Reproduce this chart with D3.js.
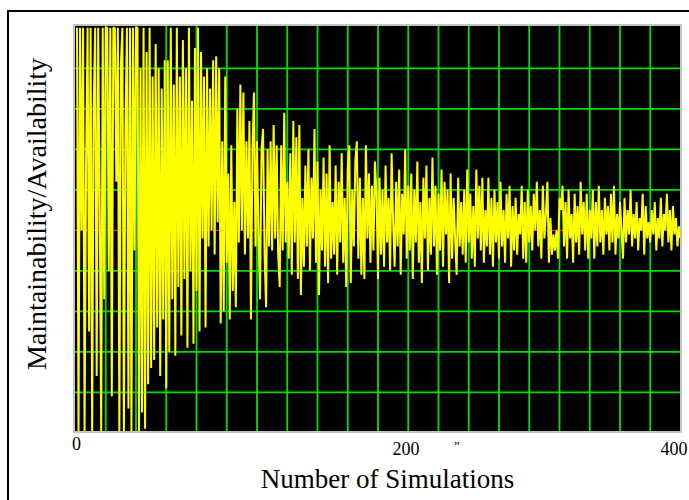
<!DOCTYPE html>
<html>
<head>
<meta charset="utf-8">
<script src="https://cdn.jsdelivr.net/npm/d3@7"></script>
<style>
  html, body { margin: 0; padding: 0; background: #ffffff; }
  svg { display: block; }
</style>
</head>
<body>
<svg id="chart" width="689" height="500"></svg>
<script>
// Running estimate of maintainability/availability (percent) after each simulation
const availability = [
  100, 0, 100, 50, 100, 0, 67, 100, 25, 100,
  0, 80, 100, 14, 100, 56, 0, 100, 33, 100,
  100, 40, 100, 9, 100, 100, 62, 100, 0, 91,
  100, 0, 75, 100, 6, 100, 0, 100, 45, 100,
  100, 0, 90, 5, 100, 1, 94, 12, 100, 16,
  88, 18, 96, 26, 90, 14, 85, 28, 92, 11,
  92, 20, 100, 33, 86, 19, 100, 36, 88, 24,
  97, 38, 90, 21, 100, 40, 82, 22, 95, 35,
  100, 25, 94, 48, 88, 26, 90, 46, 85, 50,
  92, 44, 93, 52, 90, 27, 72, 30, 88, 42,
  64, 28, 71, 35, 57, 31, 80, 47, 86, 50,
  84, 44, 72, 48, 77, 28, 70, 84, 46, 72,
  49, 33, 70, 75, 44, 31, 70, 46, 72, 45,
  76, 48, 71, 44, 36, 71, 45, 79, 47, 62,
  43, 69, 39, 77, 47, 73, 38, 76, 34, 58,
  41, 66, 46, 70, 40, 63, 48, 75, 42, 67,
  34, 60, 45, 68, 41, 64, 37, 71, 43, 57,
  44, 66, 39, 62, 47, 69, 42, 58, 36, 65,
  71, 37, 60, 46, 67, 72, 43, 63, 39, 58,
  38, 71, 48, 64, 42, 61, 45, 67, 59, 38,
  63, 44, 60, 41, 66, 47, 58, 40, 69, 52,
  41, 62, 46, 65, 39, 59, 49, 70, 43, 61,
  45, 64, 38, 60, 47, 67, 42, 57, 37, 63,
  48, 66, 40, 58, 44, 68, 46, 61, 39, 59,
  45, 65, 41, 62, 49, 60, 37, 64, 43, 58,
  48, 39, 63, 46, 57, 44, 60, 42, 65, 47,
  59, 43, 56, 41, 65, 48, 61, 45, 63, 42,
  55, 46, 63, 44, 58, 41, 60, 47, 57, 43,
  62, 46, 55, 42, 59, 48, 61, 41, 56, 45,
  58, 44, 54, 49, 61, 43, 57, 42, 60, 47,
  56, 45, 59, 50, 62, 46, 55, 43, 61, 48,
  54, 62, 42, 53, 44, 49, 45, 50, 43, 58,
  55, 61, 46, 57, 43, 60, 48, 54, 42, 59,
  47, 56, 44, 62, 49, 57, 45, 59, 43, 55,
  48, 60, 43, 57, 46, 61, 47, 55, 44, 58,
  49, 56, 45, 59, 47, 61, 44, 54, 48, 57,
  50, 43, 58, 47, 55, 49, 60, 46, 54, 48,
  57, 45, 53, 50, 59, 44, 56, 48, 52, 47,
  55, 49, 57, 45, 53, 48, 58, 46, 54, 50,
  59, 47, 55, 45, 56, 49, 53, 46, 51, 48
];

// Simulation number of each estimate (1..400)
const simulations = availability.map((_, i) => i + 1);

// Axis labels and grid positions
const xTickLabels = [0, 200, 400];
const xGridValues = [20, 40, 60, 80, 100, 120, 140, 160, 180, 200,
                     220, 240, 260, 280, 300, 320, 340, 360, 380];
const yGridValues = [10, 20, 30, 40, 60, 70, 80, 90];
const meanValue = 50;

const xTitle = "Number of Simulations";
const yTitle = "Maintainability/Availability";

const svg = d3.select("#chart");
const W = 689, H = 500;
const plot = { left: 74, right: 681, top: 25, bottom: 432 };

const x = d3.scaleLinear().domain([0, 400]).range([75.5, 680.5]);
const y = d3.scaleLinear().domain([0, 100]).range([432.8, 27.8]);

// Outer frame (runs past the right and bottom edges of the page)
svg.append("rect")
  .attr("x", 8).attr("y", 11)
  .attr("width", W + 20).attr("height", H + 20)
  .attr("fill", "#ffffff")
  .attr("stroke", "#000000")
  .attr("stroke-width", 2);

// Plot background
svg.append("rect")
  .attr("x", plot.left).attr("y", plot.top)
  .attr("width", plot.right - plot.left)
  .attr("height", plot.bottom - plot.top)
  .attr("fill", "#000000");

svg.append("clipPath").attr("id", "plot-clip")
  .append("rect")
  .attr("x", plot.left + 1).attr("y", plot.top + 1)
  .attr("width", plot.right - plot.left - 2)
  .attr("height", plot.bottom - plot.top - 2);

const inner = svg.append("g").attr("clip-path", "url(#plot-clip)");

// Green grid
const gridColor = "#00e000";
inner.append("g").selectAll("line")
  .data(xGridValues).join("line")
  .attr("x1", d => x(d)).attr("x2", d => x(d))
  .attr("y1", plot.top).attr("y2", plot.bottom)
  .attr("stroke", gridColor).attr("stroke-width", 1.8);

inner.append("g").selectAll("line")
  .data(yGridValues).join("line")
  .attr("x1", plot.left).attr("x2", plot.right)
  .attr("y1", d => y(d)).attr("y2", d => y(d))
  .attr("stroke", gridColor).attr("stroke-width", 1.8);

// Mean reference line
inner.append("line")
  .attr("x1", plot.left).attr("x2", plot.right)
  .attr("y1", y(meanValue)).attr("y2", y(meanValue))
  .attr("stroke", "#ff2a00").attr("stroke-width", 1.2);

// Simulation trace
const line = d3.line()
  .x((d, i) => x(simulations[i]))
  .y(d => y(d));

inner.append("path")
  .datum(availability)
  .attr("d", line)
  .attr("fill", "none")
  .attr("stroke", "#ffff00")
  .attr("stroke-width", 2)
  .attr("stroke-linejoin", "bevel");

// Plot border
svg.append("rect")
  .attr("x", plot.left).attr("y", plot.top)
  .attr("width", plot.right - plot.left)
  .attr("height", plot.bottom - plot.top)
  .attr("fill", "none")
  .attr("stroke", "#c4c4c4")
  .attr("stroke-width", 2);

// Tick labels
const serif = "'Liberation Serif', 'Times New Roman', serif";
const labelShift = { 0: [1, 450], 200: [28, 455], 400: [-6.5, 455] };
svg.append("g").selectAll("text")
  .data(xTickLabels).join("text")
  .attr("x", d => x(d) + labelShift[d][0])
  .attr("y", d => labelShift[d][1])
  .attr("text-anchor", "middle")
  .attr("font-family", serif)
  .attr("font-size", 18)
  .attr("fill", "#000000")
  .text(d => d);

// Small mark under the axis
svg.append("text")
  .attr("x", 457).attr("y", 443)
  .attr("text-anchor", "middle")
  .attr("font-family", serif)
  .attr("font-size", 13)
  .attr("fill", "#000000")
  .text("\u201E");

// Axis titles
svg.append("text")
  .attr("x", 387.5).attr("y", 488)
  .attr("text-anchor", "middle")
  .attr("font-family", serif)
  .attr("font-size", 27)
  .attr("fill", "#000000")
  .text(xTitle);

svg.append("text")
  .attr("transform", "translate(46,214) rotate(-90)")
  .attr("text-anchor", "middle")
  .attr("font-family", serif)
  .attr("font-size", 28)
  .attr("fill", "#000000")
  .text(yTitle);
</script>
</body>
</html>
